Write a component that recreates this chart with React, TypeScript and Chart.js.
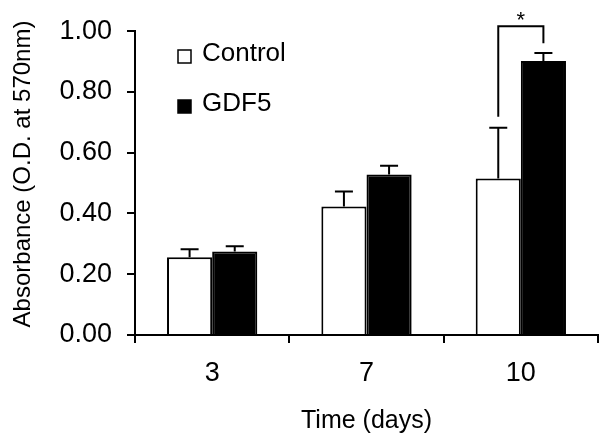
import React, { useEffect, useRef } from "react";
import { Chart, registerables } from "chart.js";

Chart.register(...registerables);

const categories = ["3", "7", "10"];
const controlValues = [0.256, 0.423, 0.515];
const controlErrors = [0.026, 0.049, 0.167];
const gdf5Values = [0.275, 0.528, 0.902];
const gdf5Errors = [0.017, 0.029, 0.026];
const yTicks = [0, 0.2, 0.4, 0.6, 0.8, 1.0];
const yTitle = "Absorbance (O.D. at 570nm)";
const xTitle = "Time (days)";
// significance bracket at day 10: [top level, left leg end, right leg end]
const sigCategory = 2;
const sigLevels = [1.016, 0.718, 0.96];
const sigLabel = "*";

const FONT = "'Liberation Sans', Arial, sans-serif";

const errorBarPlugin = {
  id: "errorBars",
  afterDatasetsDraw(chart: any) {
    const ctx = chart.ctx;
    const y = chart.scales.y;
    const errs = [controlErrors, gdf5Errors];
    ctx.save();
    ctx.strokeStyle = "#000";
    ctx.lineWidth = 2;
    chart.data.datasets.forEach((ds: any, di: number) => {
      const meta = chart.getDatasetMeta(di);
      meta.data.forEach((bar: any, i: number) => {
        const v = ds.data[i];
        const top = y.getPixelForValue(v + errs[di][i]);
        const base = y.getPixelForValue(v);
        const x = bar.x;
        ctx.beginPath();
        ctx.moveTo(x, base);
        ctx.lineTo(x, top);
        ctx.moveTo(x - 9, top);
        ctx.lineTo(x + 9, top);
        ctx.stroke();
      });
    });
    // significance bracket
    const xl = chart.getDatasetMeta(0).data[sigCategory].x;
    const xr = chart.getDatasetMeta(1).data[sigCategory].x;
    const yt = y.getPixelForValue(sigLevels[0]);
    ctx.beginPath();
    ctx.moveTo(xl, y.getPixelForValue(sigLevels[1]));
    ctx.lineTo(xl, yt);
    ctx.lineTo(xr, yt);
    ctx.lineTo(xr, y.getPixelForValue(sigLevels[2]));
    ctx.stroke();
    ctx.fillStyle = "#000";
    ctx.font = `22px ${FONT}`;
    ctx.textAlign = "center";
    ctx.textBaseline = "alphabetic";
    ctx.fillText(sigLabel, (xl + xr) / 2, yt + 1);
    ctx.restore();
  },
};

const legendPlugin = {
  id: "customLegend",
  afterDraw(chart: any) {
    const ctx = chart.ctx;
    ctx.save();
    const items = chart.data.datasets;
    items.forEach((ds: any, i: number) => {
      const bx = 178;
      const by = 50 + i * 50;
      ctx.fillStyle = ds.backgroundColor;
      ctx.fillRect(bx, by, 13, 13);
      ctx.strokeStyle = "#000";
      ctx.lineWidth = 1.5;
      ctx.strokeRect(bx, by, 13, 13);
      ctx.fillStyle = "#000";
      ctx.font = `26px ${FONT}`;
      ctx.textAlign = "left";
      ctx.textBaseline = "middle";
      ctx.fillText(ds.label, 202, by + 4);
    });
    // y-axis title
    ctx.translate(23, 174);
    ctx.rotate(-Math.PI / 2);
    ctx.font = `24px ${FONT}`;
    ctx.textAlign = "center";
    ctx.textBaseline = "middle";
    ctx.fillText(yTitle, 0, 0);
    ctx.restore();
  },
};

export default function App() {
  const ref = useRef<HTMLCanvasElement | null>(null);
  useEffect(() => {
    if (!ref.current) return;
    const chart = new Chart(ref.current, {
      type: "bar",
      data: {
        labels: categories,
        datasets: [
          {
            label: "Control",
            data: controlValues,
            backgroundColor: "#ffffff",
            borderColor: "#000000",
            borderWidth: 2,
            borderSkipped: "bottom",
            categoryPercentage: 0.585,
            barPercentage: 1.0,
          },
          {
            label: "GDF5",
            data: gdf5Values,
            backgroundColor: "#000000",
            borderColor: "#000000",
            borderWidth: 2,
            borderSkipped: "bottom",
            categoryPercentage: 0.585,
            barPercentage: 1.0,
          },
        ],
      },
      options: {
        animation: false,
        responsive: true,
        maintainAspectRatio: false,
        layout: { padding: { top: 30, right: 14, left: 0, bottom: 0 } },
        plugins: {
          legend: { display: false },
          tooltip: { enabled: false },
        },
        scales: {
          x: {
            grid: {
              offset: true,
              drawOnChartArea: false,
              drawTicks: true,
              tickLength: 8,
              color: "#000",
              lineWidth: 2,
            },
            border: { display: true, color: "#000", width: 2 },
            ticks: {
              color: "#000",
              font: { family: FONT, size: 27 },
              padding: 14,
            },
            title: {
              display: true,
              text: xTitle,
              color: "#000",
              font: { family: FONT, size: 25 },
              padding: { top: 0, bottom: 10 },
            },
            afterFit(scale: any) {
              scale.height = 111;
            },
          },
          y: {
            min: 0,
            max: 1,
            afterBuildTicks(scale: any) {
              scale.ticks = yTicks.map((v) => ({ value: v }));
            },
            grid: {
              drawOnChartArea: false,
              drawTicks: true,
              tickLength: 8,
              color: "#000",
              lineWidth: 2,
            },
            border: { display: true, color: "#000", width: 2 },
            ticks: {
              color: "#000",
              font: { family: FONT, size: 27 },
              padding: 15,
              callback: (v: any) => Number(v).toFixed(2),
            },
            afterFit(scale: any) {
              scale.width = 135;
            },
          },
        },
      },
      plugins: [errorBarPlugin, legendPlugin],
    });
    return () => chart.destroy();
  }, []);
  return (
    <div style={{ position: "absolute", left: 0, top: 0, width: 612, height: 446, background: "#fff" }}>
      <canvas ref={ref} />
    </div>
  );
}
